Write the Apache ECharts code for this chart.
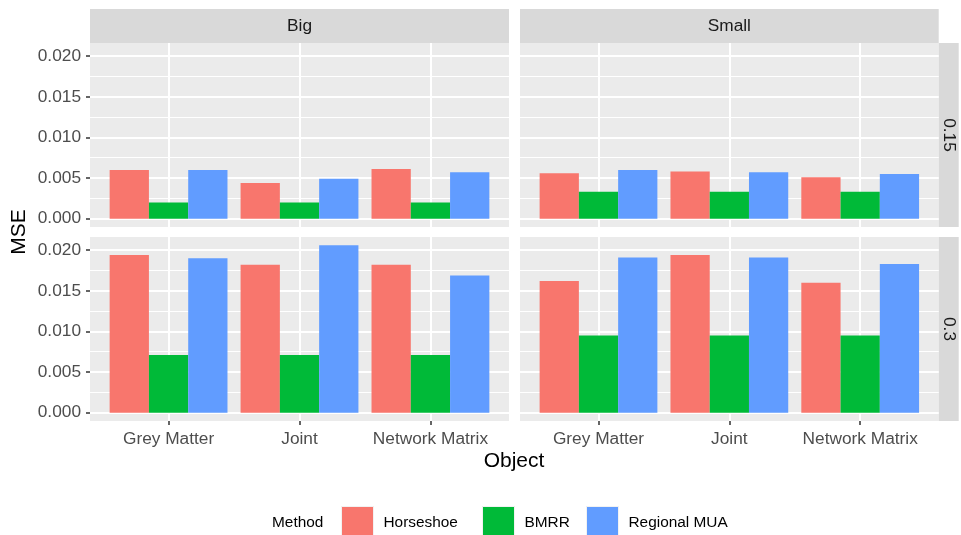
<!DOCTYPE html>
<html>
<head>
<meta charset="utf-8">
<script src="https://cdn.jsdelivr.net/npm/echarts@6/dist/echarts.min.js"></script>
<style>
  html, body { margin: 0; padding: 0; background: #ffffff; }
  #chart { width: 961px; height: 535px; }
</style>
</head>
<body>
<div id="chart"></div>
<script>
// Facets: columns by size, rows by rho
const categories = ['Grey Matter', 'Joint', 'Network Matrix'];
const sizes = ['Big', 'Small'];
const rhos = ['0.15', '0.3'];
const methods = ['Horseshoe', 'BMRR', 'Regional MUA'];
const methodColors = ['#F8766D', '#00BA38', '#619CFF'];
const yTicks = [0, 0.005, 0.010, 0.015, 0.020];
const yMinorTicks = [0.0025, 0.0075, 0.0125, 0.0175];

// MSE per object (Grey Matter, Joint, Network Matrix)
const horseshoeBig015 = [0.0060, 0.0044, 0.0061];
const bmrrBig015 = [0.0020, 0.0020, 0.0020];
const muaBig015 = [0.0060, 0.0049, 0.0057];

const horseshoeSmall015 = [0.0056, 0.0058, 0.0051];
const bmrrSmall015 = [0.0033, 0.0033, 0.0033];
const muaSmall015 = [0.0060, 0.0057, 0.0055];

const horseshoeBig03 = [0.0194, 0.0182, 0.0182];
const bmrrBig03 = [0.0071, 0.0071, 0.0071];
const muaBig03 = [0.0190, 0.0206, 0.0169];

const horseshoeSmall03 = [0.0162, 0.0194, 0.0160];
const bmrrSmall03 = [0.0095, 0.0095, 0.0095];
const muaSmall03 = [0.0191, 0.0191, 0.0183];

const panels = [
  { col: 0, row: 0, values: [horseshoeBig015, bmrrBig015, muaBig015] },
  { col: 1, row: 0, values: [horseshoeSmall015, bmrrSmall015, muaSmall015] },
  { col: 0, row: 1, values: [horseshoeBig03, bmrrBig03, muaBig03] },
  { col: 1, row: 1, values: [horseshoeSmall03, bmrrSmall03, muaSmall03] }
];

// Panel geometry
const colLeft = [90, 520];
const colWidth = [419, 418.7];
const rowTop = [43, 237];
const rowHeight = 184;
const stripTop = 9;
const stripH = 34;
const stripRightX = 938.7;
const stripRightW = 20;

const FONT = '"Liberation Sans", Arial, Helvetica, sans-serif';

// Shared y range with 5% padding on both sides
let dataMax = 0;
panels.forEach(p => p.values.forEach(arr => arr.forEach(v => { if (v > dataMax) dataMax = v; })));
const yMin = -0.05 * dataMax;
const yMax = dataMax * 1.05;

const grids = [], xAxes = [], yAxes = [], series = [];

panels.forEach((p, i) => {
  const isBottom = p.row === 1;
  const isLeft = p.col === 0;
  grids.push({
    left: colLeft[p.col], top: rowTop[p.row],
    width: colWidth[p.col], height: rowHeight,
    show: true, backgroundColor: '#EBEBEB', borderWidth: 0,
    containLabel: false, outerBoundsMode: 'none'
  });
  xAxes.push({
    type: 'value', gridIndex: i, min: 0.4, max: 3.6, position: 'bottom',
    axisLine: { show: false, onZero: false },
    axisTick: { show: isBottom, customValues: [1, 2, 3], length: 4,
      lineStyle: { color: '#333333', width: 1.5 } },
    axisLabel: { show: isBottom, customValues: [1, 2, 3], margin: 9.5,
      formatter: v => categories[Math.round(v) - 1],
      color: '#4D4D4D', fontSize: 17.3, fontFamily: FONT },
    splitLine: { show: true, lineStyle: { color: '#FFFFFF', width: 2 } }
  });
  // major y axis (carries the bars)
  yAxes.push({
    type: 'value', gridIndex: i, min: yMin, max: yMax, position: 'left',
    axisLine: { show: false, onZero: false },
    axisTick: { show: isLeft, customValues: yTicks, length: 4,
      lineStyle: { color: '#333333', width: 1.5 } },
    axisLabel: { show: isLeft, customValues: yTicks, margin: 9,
      formatter: v => v.toFixed(3),
      color: '#4D4D4D', fontSize: 17.3, fontFamily: FONT },
    splitLine: { show: true, lineStyle: { color: '#FFFFFF', width: 2 } }
  });
  // minor y grid lines
  yAxes.push({
    type: 'value', gridIndex: i, min: yMin, max: yMax, position: 'left',
    axisLine: { show: false, onZero: false },
    axisTick: { show: false, customValues: yMinorTicks },
    axisLabel: { show: false, customValues: yMinorTicks },
    splitLine: { show: true, lineStyle: { color: '#FFFFFF', width: 1 } }
  });
  methods.forEach((m, k) => {
    series.push({
      type: 'bar', name: m,
      xAxisIndex: i, yAxisIndex: 2 * i,
      barGap: '0%', barCategoryGap: '10%',
      itemStyle: { color: methodColors[k] },
      emphasis: { disabled: true },
      data: p.values[k].map((v, j) => [j + 1, v])
    });
  });
});

// Facet strips and axis titles
const graphic = [];
sizes.forEach((s, c) => {
  graphic.push({ type: 'rect', silent: true,
    shape: { x: colLeft[c], y: stripTop, width: colWidth[c], height: stripH },
    style: { fill: '#D9D9D9' } });
  graphic.push({ type: 'text', silent: true,
    x: colLeft[c] + colWidth[c] / 2, y: stripTop + stripH / 2,
    style: { text: s, fill: '#1A1A1A', fontSize: 17.3, fontFamily: FONT,
      align: 'center', verticalAlign: 'middle' } });
});
rhos.forEach((r, rIdx) => {
  graphic.push({ type: 'rect', silent: true,
    shape: { x: stripRightX, y: rowTop[rIdx], width: stripRightW, height: rowHeight },
    style: { fill: '#D9D9D9' } });
  graphic.push({ type: 'text', silent: true,
    x: stripRightX + stripRightW / 2, y: rowTop[rIdx] + rowHeight / 2,
    rotation: -Math.PI / 2,
    style: { text: r, fill: '#1A1A1A', fontSize: 17.3, fontFamily: FONT,
      align: 'center', verticalAlign: 'middle' } });
});
graphic.push({ type: 'text', silent: true, x: 19, y: 232, rotation: Math.PI / 2,
  style: { text: 'MSE', fill: '#000000', fontSize: 21, fontFamily: FONT,
    align: 'center', verticalAlign: 'middle' } });
graphic.push({ type: 'text', silent: true, x: 514, y: 461,
  style: { text: 'Object', fill: '#000000', fontSize: 21, fontFamily: FONT,
    align: 'center', verticalAlign: 'middle' } });
graphic.push({ type: 'text', silent: true, x: 272, y: 523,
  style: { text: 'Method', fill: '#000000', fontSize: 15.4, fontFamily: FONT,
    align: 'left', verticalAlign: 'middle' } });

// One legend block per method so each key sits where it should
const legendLeft = [341, 482, 586];
const legends = methods.map((m, k) => ({
  data: [m], left: legendLeft[k], top: 506, orient: 'horizontal',
  icon: 'rect', itemWidth: 32, itemHeight: 33, selectedMode: false,
  padding: 0,
  itemStyle: { borderColor: '#F2F2F2', borderWidth: 1 },
  textStyle: { color: '#000000', fontSize: 15.4, fontFamily: FONT, padding: [0, 0, 0, 5] }
}));

const chart = echarts.init(document.getElementById('chart'), null, { renderer: 'canvas' });
chart.setOption({
  animation: false,
  backgroundColor: '#FFFFFF',
  grid: grids,
  xAxis: xAxes,
  yAxis: yAxes,
  legend: legends,
  tooltip: { show: false },
  graphic: graphic,
  series: series
});
</script>
</body>
</html>
